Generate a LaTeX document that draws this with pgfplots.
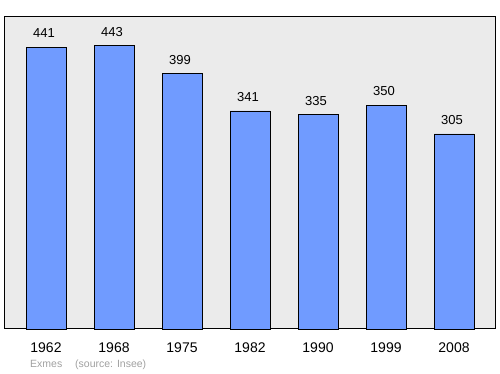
\documentclass[border=0pt]{standalone}
\usepackage{pgfplots}
\pgfplotsset{compat=1.18}
\usepackage{fontspec}
\setmainfont{Liberation Sans}
\definecolor{barblue}{RGB}{112,155,255}
\definecolor{bggray}{RGB}{235,235,235}
\definecolor{footgray}{RGB}{160,160,160}
\begin{document}
\begin{tikzpicture}
\begin{axis}[
  at={(0pt,0pt)}, anchor=south west,
  scale only axis, width=490pt, height=312pt,
  /pgf/number format/assume math mode=true,
  axis background/.style={fill=bggray},
  axis line style={black, line width=1pt},
  xmin=-0.603, xmax=6.603, ymin=0, ymax=488,
  xtick=data,
  xticklabels={1962,1968,1975,1982,1990,1999,2008},
  major tick length=0pt,
  ytick=\empty,
  xticklabel style={font=\fontsize{14}{16}\selectfont, yshift=-10pt},
  ybar, bar width=40pt,
  nodes near coords,
  nodes near coords style={font=\fontsize{13}{15}\selectfont, anchor=south, yshift=5.5pt, xshift=-2pt},
  clip=false,
]
\addplot[fill=barblue, draw=black, line width=0.8pt] coordinates {
 (0,441) (1,443) (2,399) (3,341) (4,335) (5,350) (6,305)};
\end{axis}
\node[anchor=base west, text=footgray, font=\fontsize{10.5}{12}\selectfont, inner sep=0] at (25pt,-39pt) {Exmes};
\node[anchor=base west, text=footgray, font=\fontsize{10.5}{12}\selectfont, inner sep=0] at (70pt,-39pt) {(source: Insee)};
\pgfresetboundingbox
\path (-5pt,-45pt) rectangle (495pt,329pt);
\end{tikzpicture}
\end{document}
